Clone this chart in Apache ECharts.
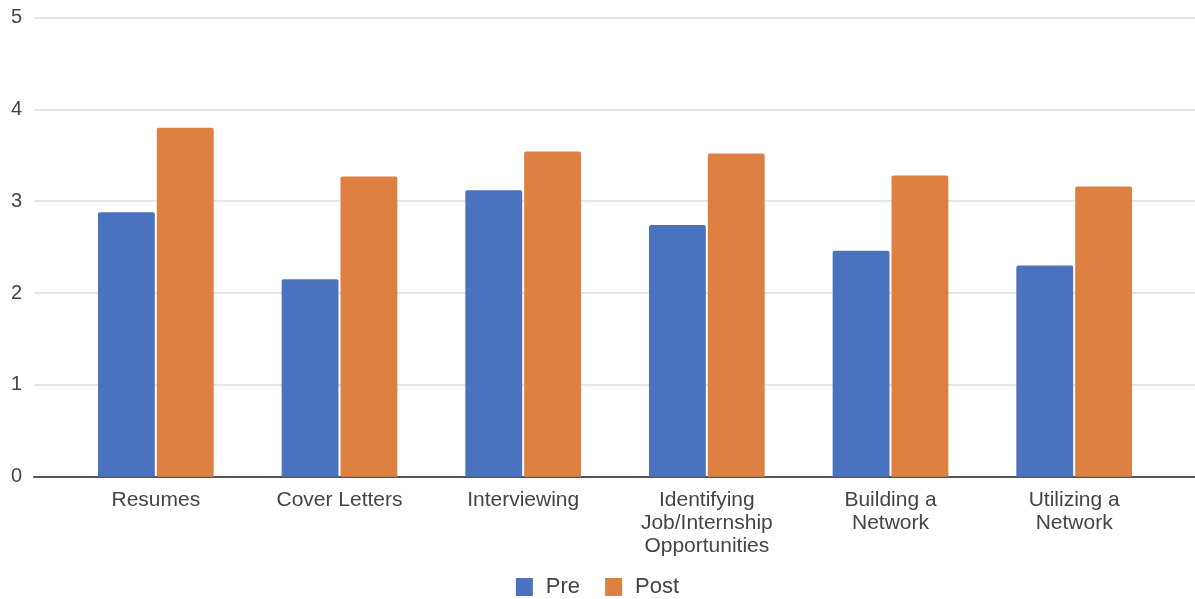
<!DOCTYPE html>
<html>
<head>
<meta charset="utf-8">
<script src="https://cdn.jsdelivr.net/npm/echarts@6/dist/echarts.min.js"></script>
<style>html,body{margin:0;padding:0;background:#fff;}#c{width:1195px;height:599px;}</style>
</head>
<body>
<div id="c"></div>
<script>
const categories = ["Resumes", "Cover Letters", "Interviewing", "Identifying\nJob/Internship\nOpportunities", "Building a\nNetwork", "Utilizing a\nNetwork"];
const preValues = [2.88, 2.15, 3.12, 2.74, 2.46, 2.30];
const postValues = [3.80, 3.27, 3.54, 3.52, 3.28, 3.16];
const seriesNames = ["Pre", "Post"];
const yTicks = [0, 1, 2, 3, 4, 5];

const chart = echarts.init(document.getElementById('c'), null, {renderer: 'canvas'});
const FONT = "'Liberation Sans', Arial, sans-serif";
const TOP = 17.5, BOTTOM = 122.3;
chart.setOption({
  animation: false,
  backgroundColor: '#fff',
  grid: [
    {left: 34, right: 0, top: TOP, bottom: BOTTOM},
    {left: 64, right: 29, top: TOP, bottom: BOTTOM}
  ],
  legend: {
    data: seriesNames,
    top: 571,
    left: 'center',
    itemWidth: 17,
    itemHeight: 18,
    itemGap: 25,
    icon: 'rect',
    textStyle: {fontFamily: FONT, fontSize: 22, color: '#444', padding: [0, 0, 0, 8]}
  },
  xAxis: [
    {type: 'value', gridIndex: 0, min: 0, max: 1, show: true,
     axisLine: {show: true, lineStyle: {color: '#555', width: 2}},
     axisTick: {show: false}, axisLabel: {show: false}, splitLine: {show: false}},
    {type: 'category', gridIndex: 1, data: categories,
     axisLine: {show: false}, axisTick: {show: false},
     axisLabel: {interval: 0, margin: 12, fontFamily: FONT, fontSize: 21, lineHeight: 23, color: '#444', align: 'center'}}
  ],
  yAxis: [
    {type: 'value', gridIndex: 0, min: yTicks[0], max: yTicks[yTicks.length - 1], interval: 1,
     axisLine: {show: false}, axisTick: {show: false},
     axisLabel: {margin: 12, fontFamily: FONT, fontSize: 20, color: '#444'},
     splitLine: {lineStyle: {color: '#dcdcdc', width: 1.5}}},
    {type: 'value', gridIndex: 1, min: yTicks[0], max: yTicks[yTicks.length - 1], interval: 1, show: false,
     splitLine: {show: false}}
  ],
  series: [
    {name: seriesNames[0], type: 'bar', xAxisIndex: 1, yAxisIndex: 1, data: preValues,
     barGap: '3.5%', barCategoryGap: '37%',
     itemStyle: {color: '#4a72bf', borderRadius: [2, 2, 0, 0]}},
    {name: seriesNames[1], type: 'bar', xAxisIndex: 1, yAxisIndex: 1, data: postValues,
     barGap: '3.5%', barCategoryGap: '37%',
     itemStyle: {color: '#df8043', borderRadius: [2, 2, 0, 0]}}
  ]
});
</script>
</body>
</html>
